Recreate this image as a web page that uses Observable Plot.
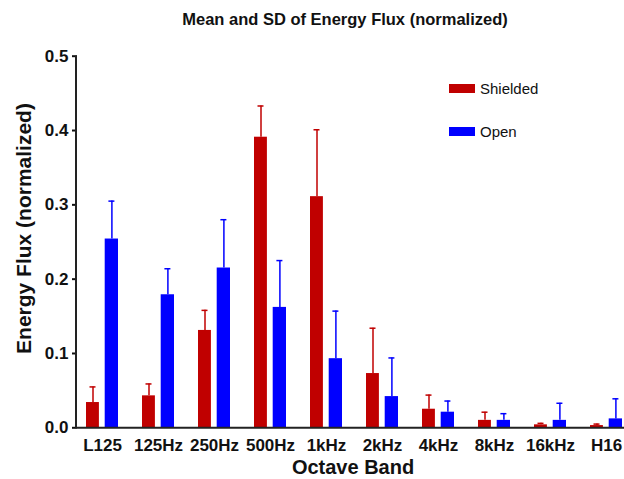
<!DOCTYPE html>
<html>
<head>
<meta charset="utf-8">
<script src="https://cdn.jsdelivr.net/npm/d3@7"></script>
<script src="https://cdn.jsdelivr.net/npm/@observablehq/plot@0.6"></script>
<style>
  body { margin: 0; background: #fff; font-family: "Liberation Sans", Arial, sans-serif; }
  #wrap { position: relative; width: 624px; height: 479px; overflow: hidden; }
  #title {
    box-sizing: border-box; height: 36px; padding-top: 9px; padding-left: 66px;
    text-align: center; line-height: 20px; font-size: 16.5px; font-weight: bold; color: #111;
  }
  .legend-item { position: absolute; left: 449px; display: flex; align-items: center; font-size: 15px; color: #111; }
  .legend-item .sw { width: 26px; height: 9.5px; margin-right: 5px; }
  svg [aria-label="y-axis tick"], svg .tick line { stroke-width: 2px; }
</style>
</head>
<body>
<div id="wrap">
  <div id="title">Mean and SD of Energy Flux (normalized)</div>
  <div id="chart"></div>
  <div class="legend-item" style="top:80px"><div class="sw" style="background:#C00000"></div><span>Shielded</span></div>
  <div class="legend-item" style="top:123px"><div class="sw" style="background:#0000FF"></div><span>Open</span></div>
</div>
<script>
// Octave bands
const bands = ["L125", "125Hz", "250Hz", "500Hz", "1kHz", "2kHz", "4kHz", "8kHz", "16kHz", "H16"];

// Normalized energy flux: mean and standard deviation per band
const shieldedMean = [0.034, 0.043, 0.131, 0.391, 0.311, 0.073, 0.025, 0.010, 0.004, 0.003];
const shieldedSD   = [0.021, 0.016, 0.027, 0.042, 0.090, 0.061, 0.019, 0.011, 0.002, 0.002];
const openMean     = [0.254, 0.179, 0.215, 0.162, 0.093, 0.042, 0.021, 0.010, 0.010, 0.012];
const openSD       = [0.051, 0.035, 0.065, 0.063, 0.064, 0.052, 0.015, 0.009, 0.023, 0.027];

const yTicks = [0, 0.1, 0.2, 0.3, 0.4, 0.5];

const RED = "#C00000";
const BLUE = "#0000FF";

const rows = (means, sds) => bands.map((band, i) => ({band, mean: means[i], upper: means[i] + sds[i]}));
const shielded = rows(shieldedMean, shieldedSD);
const open = rows(openMean, openSD);

const marginLeft = 77;

const chart = Plot.plot({
  width: 624,
  height: 443,
  marginTop: 19.7,
  marginBottom: 51.7,
  marginLeft,
  marginRight: 0,
  style: {fontFamily: '"Liberation Sans", Arial, sans-serif', fontSize: "17px", fontWeight: "bold", color: "#111", background: "#fff"},
  x: {domain: bands, range: [70.7, 636.7], padding: 0, tickSize: 0, tickPadding: 11, label: null},
  y: {domain: [0, 0.5], ticks: yTicks, tickFormat: ".1f", tickSize: 5, tickPadding: 4, label: null},
  marks: [
    // bars: shielded on the left half of each band, open on the right
    Plot.barY(shielded, {x: "band", y: "mean", fill: RED, insetLeft: 12, insetRight: 31.1}),
    Plot.barY(open, {x: "band", y: "mean", fill: BLUE, insetLeft: 30.7, insetRight: 12}),
    // upper SD whiskers
    Plot.ruleX(shielded, {x: "band", y1: "mean", y2: "upper", stroke: RED, strokeWidth: 1.5, dx: -9.5}),
    Plot.ruleX(open, {x: "band", y1: "mean", y2: "upper", stroke: BLUE, strokeWidth: 1.5, dx: 9.4}),
    Plot.tickY(shielded, {x: "band", y: "upper", stroke: RED, strokeWidth: 1.5, insetLeft: 15.5, insetRight: 34.5}),
    Plot.tickY(open, {x: "band", y: "upper", stroke: BLUE, strokeWidth: 1.5, insetLeft: 34.4, insetRight: 15.6}),
    // baseline
    Plot.ruleY([0], {stroke: "#222", strokeWidth: 2}),
    // axis titles
    Plot.text(["Energy Flux (normalized)"], {frameAnchor: "left", textAnchor: "middle", lineAnchor: "middle", rotate: -90, dx: -53, dy: -13.5, fontSize: 21, fontWeight: "bold", fill: "#111"}),
    Plot.text(["Octave Band"], {frameAnchor: "bottom", textAnchor: "middle", lineAnchor: "middle", dx: 2, dy: 39.7, fontSize: 20, fontWeight: "bold", fill: "#111"})
  ]
});

// vertical y-axis line spanning the domain
const ys = chart.scale("y");
d3.select(chart).append("line")
  .attr("x1", marginLeft - 1).attr("x2", marginLeft - 1)
  .attr("y1", ys.apply(0.5)).attr("y2", ys.apply(0) + 1)
  .attr("stroke", "#222").attr("stroke-width", 2);

document.getElementById("chart").appendChild(chart);
</script>
</body>
</html>
